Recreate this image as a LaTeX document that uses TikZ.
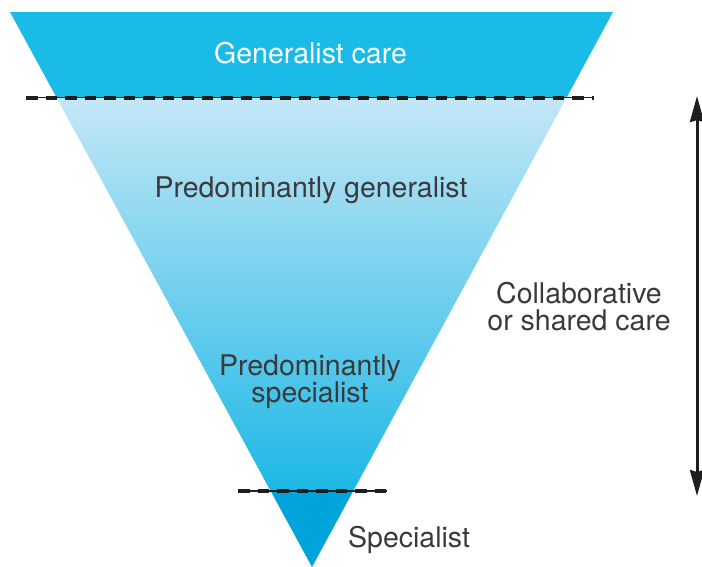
\documentclass[tikz,border=0pt]{standalone}
\usepackage{fontspec}
\setmainfont{TeX Gyre Heros}
\usetikzlibrary{arrows.meta,calc}
\definecolor{topband}{HTML}{1ABBE6}
\definecolor{gradtop}{HTML}{C4E7F6}
\definecolor{gradbot}{HTML}{1DB8E6}
\definecolor{apexcol}{HTML}{00A3DA}
\definecolor{txt}{HTML}{3A3A3A}
\definecolor{darkline}{HTML}{1E1E1E}
\begin{document}
\begin{tikzpicture}[x=1pt,y=-1pt,
  lbl/.style={font=\fontsize{28.5}{27}\selectfont, text=txt, align=center, inner sep=0pt},
  sepline/.style={darkline, line width=1.2pt},
  sepdash/.style={darkline, line width=4pt, dash pattern=on 11.5pt off 8pt},
  spanarrow/.style={darkline, line width=3pt, {Stealth[length=26pt,width=14pt,inset=2pt]}-{Stealth[length=26pt,width=14pt,inset=2pt]}}]
\useasboundingbox (0,0) rectangle (702,566);
\coordinate (TL) at (10,12);
\coordinate (TR) at (613,12);
\coordinate (A) at (312,567);
\coordinate (L1) at ($(TL)!{85/555}!(A)$);
\coordinate (R1) at ($(TR)!{85/555}!(A)$);
\coordinate (L2) at ($(TL)!{479/555}!(A)$);
\coordinate (R2) at ($(TR)!{479/555}!(A)$);
% bands
\fill[topband] (TL) -- (TR) -- (R1) -- (L1) -- cycle;
\shade[top color=gradtop, bottom color=gradbot] (L1) -- (R1) -- (R2) -- (L2) -- cycle;
\fill[apexcol] (L2) -- (R2) -- (A) -- cycle;
% separators
\coordinate (d1l) at (26,97.5);
\coordinate (d1r) at (594,97.5);
\coordinate (d2l) at (238,491);
\coordinate (d2r) at (387,491);
\draw[sepline] (d1l) -- (d1r);
\draw[sepdash] (d1l) -- (d1r);
\draw[sepline] (d2l) -- (d2r);
\draw[sepdash] (d2l) -- (d2r);
% arrow
\coordinate (ar1) at (697,96);
\coordinate (ar2) at (697,496);
\draw[spanarrow] (ar1) -- (ar2);
% labels
\node[lbl, text=white, anchor=base] (gc) at (310.5,63) {Generalist care};
\node[lbl, anchor=base] (pg) at (311,197) {Predominantly generalist};
\node[lbl] (ps) at (310,382) {Predominantly\\specialist};
\node[lbl] (cs) at (579,307) {Collaborative\\or shared care};
\node[lbl, anchor=base west] (sp) at (348,547) {Specialist};
\end{tikzpicture}
\end{document}
